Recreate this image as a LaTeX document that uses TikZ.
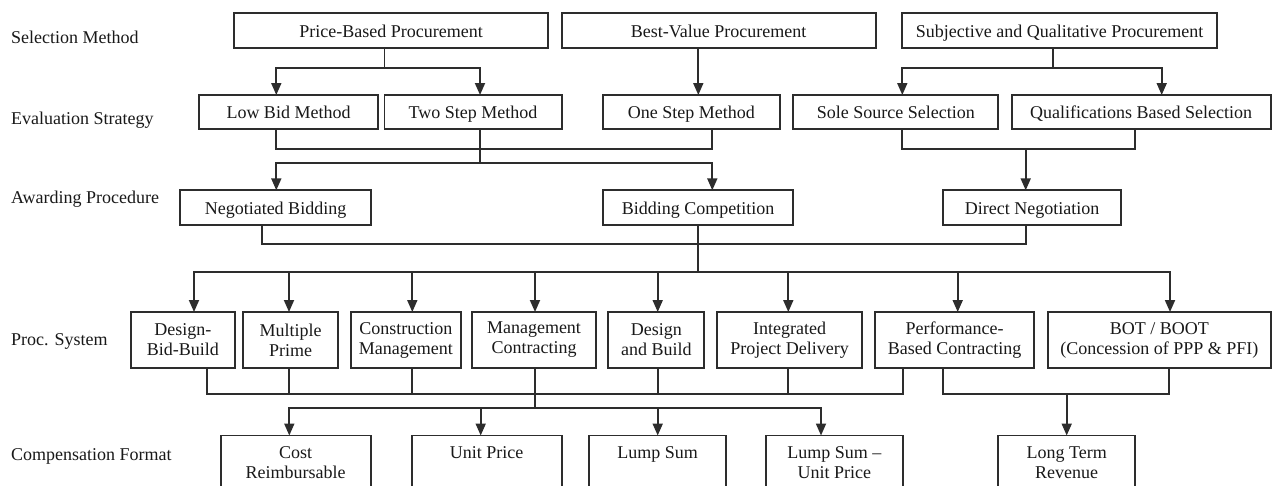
\documentclass[tikz,border=0pt]{standalone}
\usepackage{fontspec}
\setmainfont{Liberation Serif}
\usetikzlibrary{arrows.meta}
\definecolor{lncol}{RGB}{45,45,45}
\definecolor{txcol}{RGB}{25,25,25}
\begin{document}
\begin{tikzpicture}[x=1pt,y=-1pt,
  box/.style={draw=lncol, line width=1.8pt, inner sep=0pt, outer sep=0pt, text=txcol, font=\fontsize{18}{20}\selectfont, align=center},
  one/.style={box, text height=13.5pt, text depth=0pt},
  arr/.style={draw=lncol, line width=1.8pt, -{Triangle[length=12pt,width=10pt]}},
  wire/.style={draw=lncol, line width=1.8pt},
  lab/.style={anchor=base west, inner sep=0pt, text=txcol, font=\fontsize{18}{20}\selectfont},
  txt/.style={inner sep=0pt, text=txcol, font=\fontsize{18}{20}\selectfont, align=center}]
\useasboundingbox (0,0) rectangle (1274,485);
\clip (0,0) rectangle (1274,485);
\fill[white] (0,0) rectangle (1274,485);

% left labels
\node[lab] (l1) at (11,43.5) {Selection Method};
\node[lab] (l2) at (11,124) {Evaluation Strategy};
\node[lab] (l3) at (11,203.3) {Awarding Procedure};
\node[lab] (l4) at (11,345) {Proc. System};
\node[lab] (l5) at (11,460) {Compensation Format};

% row 1
\node[one, minimum width=314.3pt, minimum height=34.4pt] (pb) at (391.2,30.5) {Price-Based Procurement};
\node[one, minimum width=314pt, minimum height=34.4pt] (bv) at (718.7,30.5) {Best-Value Procurement};
\node[one, minimum width=314.4pt, minimum height=34.4pt] (sq) at (1059.5,30.5) {Subjective and Qualitative Procurement};

% row 2
\node[one, minimum width=179pt, minimum height=34pt] (lb) at (288.5,112) {Low Bid Method};
\node[one, minimum width=177.2pt, minimum height=34pt] (ts) at (473.1,112) {Two Step Method};
\node[one, minimum width=177.3pt, minimum height=34pt] (os) at (691.3,112) {One Step Method};
\node[one, minimum width=205pt, minimum height=34pt] (ss) at (895.8,112) {Sole Source Selection};
\node[one, minimum width=259pt, minimum height=34pt] (qb) at (1141.2,112) {Qualifications Based Selection};

% row 3
\node[one, minimum width=191pt, minimum height=34.4pt] (nb) at (275.5,207.5) {Negotiated Bidding};
\node[one, minimum width=190.6pt, minimum height=34.4pt] (bc) at (698,207.5) {Bidding Competition};
\node[one, minimum width=177.7pt, minimum height=34.4pt] (dn) at (1032.2,207.5) {Direct Negotiation};

% row 4
\node[box, minimum width=104.3pt, minimum height=56pt] (dbb) at (182.8,340) {Design-\\Bid-Build};
\node[box, minimum width=95.6pt, minimum height=56pt] (mp) at (290.5,340) {Multiple\\Prime};
\node[box, minimum width=109.8pt, minimum height=56pt] (cm) at (405.9,340) {Construction\\Management};
\node[box, minimum width=123.4pt, minimum height=56pt] (mc) at (534,340) {Management\\Contracting};
\node[box, minimum width=96pt, minimum height=56pt] (db) at (656.3,340) {Design\\and Build};
\node[box, minimum width=145.6pt, minimum height=56pt] (ipd) at (789.5,340) {Integrated\\Project Delivery};
\node[box, minimum width=159.3pt, minimum height=56pt] (pbc) at (954.7,340) {Performance-\\Based Contracting};
\node[box, minimum width=223.3pt, minimum height=56pt] (bot) at (1159.3,340) {BOT / BOOT\\(Concession of PPP \& PFI)};

% row 5 boxes (cut by the lower edge)
\node[box, minimum width=150pt, minimum height=64.5pt] (cr) at (295.7,467.75) {};
\node[box, minimum width=150pt, minimum height=64.5pt] (up) at (486.7,467.75) {};
\node[box, minimum width=136.7pt, minimum height=64.5pt] (ls) at (657.7,467.75) {};
\node[box, minimum width=136.7pt, minimum height=64.5pt] (lsup) at (834.3,467.75) {};
\node[box, minimum width=136.7pt, minimum height=64.5pt] (ltr) at (1066.7,467.75) {};
\node[txt] (crt) at (295.7,462.4) {Cost\\Reimbursable};
\node[txt, anchor=base] (upt) at (486.7,458.5) {Unit Price};
\node[txt, anchor=base] (lst) at (657.7,458.5) {Lump Sum};
\node[txt] (lsupt) at (834.3,462.4) {Lump Sum –\\Unit Price};
\node[txt] (ltrt) at (1066.7,462.4) {Long Term\\Revenue};

% selection -> evaluation
\coordinate (pbj) at (384.5,67.7);
\coordinate (pbl) at (276.3,67.7);
\coordinate (pbr) at (480,67.7);
\draw[wire] (pbj |- pb.south) -- (pbj);
\draw[arr] (pbj) -| (pbl |- lb.north);
\draw[arr] (pbj) -| (pbr |- ts.north);
\coordinate (bvx) at (698.3,67.7);
\draw[arr] (bvx |- bv.south) -- (bvx |- os.north);
\coordinate (sqj) at (1052.7,67.7);
\coordinate (sql) at (902.3,67.7);
\coordinate (sqr) at (1161.7,67.7);
\draw[wire] (sqj |- sq.south) -- (sqj);
\draw[arr] (sqj) -| (sql |- ss.north);
\draw[arr] (sqj) -| (sqr |- qb.north);

% evaluation -> awarding
\coordinate (e1) at (276.3,149.3);
\coordinate (e2) at (712.3,149.3);
\draw[wire] (e1 |- lb.south) -- (e1) -- (e2) -- (e2 |- os.south);
\coordinate (tj) at (480,163.3);
\coordinate (t1) at (276.3,163.3);
\coordinate (t2) at (712.3,163.3);
\draw[wire] (tj |- ts.south) -- (tj);
\draw[arr] (tj) -| (t1 |- nb.north);
\draw[arr] (tj) -| (t2 |- bc.north);
\coordinate (s1) at (902.3,149.3);
\coordinate (s2) at (1135,149.3);
\coordinate (sj) at (1025.7,149.3);
\draw[wire] (s1 |- ss.south) -- (s1) -- (s2) -- (s2 |- qb.south);
\draw[arr] (sj) -- (sj |- dn.north);

% awarding -> procurement system
\coordinate (a1) at (262.3,244);
\coordinate (a2) at (1025.7,244);
\coordinate (aj) at (698.3,244);
\coordinate (pj) at (698.3,271.7);
\draw[wire] (a1 |- nb.south) -- (a1) -- (a2) -- (a2 |- dn.south);
\draw[wire] (aj |- bc.south) -- (pj);
\foreach \x/\n in {194/dbb, 289/mp, 412.3/cm, 535/mc, 657.7/db, 788.3/ipd, 957.7/pbc, 1170/bot}{
  \coordinate (tmp) at (\x,271.7);
  \draw[arr] (pj) -| (tmp |- \n.north);
}

% procurement system -> compensation
\coordinate (lbl) at (206.7,394.3);
\coordinate (lbr) at (902.7,394.3);
\draw[wire] (lbl |- dbb.south) -- (lbl) -- (lbr) -- (lbr |- pbc.south);
\foreach \x/\n in {289/mp, 412.3/cm, 657.7/db, 788.3/ipd}{
  \coordinate (tmp) at (\x,394.3);
  \draw[wire] (tmp |- \n.south) -- (tmp);
}
\coordinate (mcj) at (535,407.7);
\draw[wire] (mcj |- mc.south) -- (mcj);
\foreach \x/\n in {289.3/cr, 480.7/up, 657.7/ls, 821/lsup}{
  \coordinate (tmp) at (\x,407.7);
  \draw[arr] (mcj) -| (tmp |- \n.north);
}
\coordinate (rbl) at (943.3,394.3);
\coordinate (rbr) at (1169.3,394.3);
\coordinate (rj) at (1066.7,394.3);
\draw[wire] (rbl |- pbc.south) -- (rbl) -- (rbr) -- (rbr |- bot.south);
\draw[arr] (rj) -- (rj |- ltr.north);
\end{tikzpicture}
\end{document}
